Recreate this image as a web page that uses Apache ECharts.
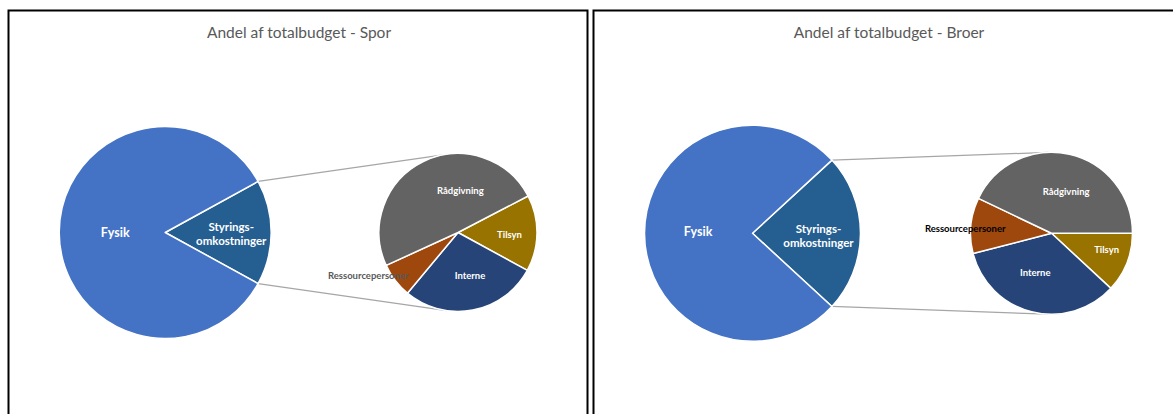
<!DOCTYPE html>
<html>
<head>
<meta charset="utf-8">
<script src="https://cdn.jsdelivr.net/npm/echarts@6/dist/echarts.min.js"></script>
<style>
html,body{margin:0;padding:0;background:#fff;}
#chart{width:1173px;height:414px;}
</style>
</head>
<body>
<div id="chart"></div>
<script>
// ---- data ----
const mainCategories = ['Styringsomkostninger', 'Fysik'];
const mainLabels = ['Styrings-\nomkostninger', 'Fysik'];
const subCategories = ['Tilsyn', 'Interne', 'Ressourcepersoner', 'Rådgivning'];

const titles = ['Andel af totalbudget - Spor', 'Andel af totalbudget - Broer'];

// share of total budget (%)
const sporMain = [16.0, 84.0];
const broerMain = [23.7, 76.3];
// breakdown of Styringsomkostninger (% of Styringsomkostninger)
const sporSub = [15.6, 28.1, 7.1, 49.2];
const broerSub = [11.9, 34.1, 11.1, 42.9];

// ---- style / layout ----
const mainColors = ['#255E91', '#4472C4'];
const subColors = ['#997300', '#264478', '#9E480E', '#636363'];
const FONT = 'Lato, "Open Sans", sans-serif';

const panels = [
  { main: sporMain, sub: sporSub, title: titles[0], titleX: 299,
    mc: [165.2, 232.5], mr: 106, sc: [458, 232.5], sr: 79, subStart: 27.5,
    mainOff: [[10, 1], [6, 0]],
    subOff: [[9, 1.5], [4, 1], [-56, 17], [21, -4]],
    resColor: '#595959',
    box: [8, 10, 579, 420] },
  { main: broerMain, sub: broerSub, title: titles[1], titleX: 889,
    mc: [752.5, 233.3], mr: 108, sc: [1051.5, 233.3], sr: 81, subStart: 0,
    mainOff: [[9, 2], [2.5, -1.5]],
    subOff: [[14.6, 0], [-5.6, -3], [-43, -1], [5, 1]],
    resColor: '#000000',
    box: [593, 10, 600, 420] }
];

function tangent(px, py, cx, cy, r, upper) {
  const dx = px - cx, dy = py - cy;
  const d = Math.sqrt(dx * dx + dy * dy);
  const base = Math.atan2(dy, dx);
  const a = Math.acos(r / d);
  const ang = upper ? base + a : base - a;
  return [cx + r * Math.cos(ang), cy + r * Math.sin(ang)];
}

const series = [];
const graphics = [];

panels.forEach((p, i) => {
  const total = p.main[0] + p.main[1];
  const half = p.main[0] / total * 360 / 2;
  // main pie
  series.push({
    type: 'pie', center: p.mc, radius: p.mr, startAngle: half, clockwise: true,
    animation: false, avoidLabelOverlap: false, silent: true,
    itemStyle: { borderColor: '#ffffff', borderWidth: 1.5 },
    label: { show: true, position: 'inside', color: '#ffffff', fontFamily: FONT,
      fontWeight: 'bold', lineHeight: 14 },
    labelLine: { show: false },
    emphasis: { disabled: true },
    labelLayout: (params) => ({ dx: p.mainOff[params.dataIndex][0], dy: p.mainOff[params.dataIndex][1] }),
    data: p.main.map((v, k) => ({
      name: mainCategories[k], value: v,
      itemStyle: { color: mainColors[k] },
      label: { formatter: mainLabels[k], fontSize: k === 1 ? 12.5 : 11.5 }
    }))
  });
  // secondary pie
  series.push({
    type: 'pie', center: p.sc, radius: p.sr, startAngle: p.subStart, clockwise: true,
    animation: false, avoidLabelOverlap: false, silent: true,
    itemStyle: { borderColor: '#ffffff', borderWidth: 1.5 },
    label: { show: true, position: 'inside', color: '#ffffff', fontFamily: FONT,
      fontWeight: 'bold', fontSize: 9.5, formatter: '{b}' },
    labelLine: { show: false },
    emphasis: { disabled: true },
    labelLayout: (params) => ({ dx: p.subOff[params.dataIndex][0], dy: p.subOff[params.dataIndex][1] }),
    data: p.sub.map((v, k) => ({
      name: subCategories[k], value: v,
      itemStyle: { color: subColors[k] },
      label: k === 2 ? { color: p.resColor } : {}
    }))
  });
  // connector lines
  const rad = half * Math.PI / 180;
  const up = [p.mc[0] + p.mr * Math.cos(rad), p.mc[1] - p.mr * Math.sin(rad)];
  const lo = [p.mc[0] + p.mr * Math.cos(rad), p.mc[1] + p.mr * Math.sin(rad)];
  const tu = tangent(up[0], up[1], p.sc[0], p.sc[1], p.sr, true);
  const tl = tangent(lo[0], lo[1], p.sc[0], p.sc[1], p.sr, false);
  graphics.push({ type: 'line', z: -1, silent: true,
    shape: { x1: up[0], y1: up[1], x2: tu[0], y2: tu[1] },
    style: { stroke: '#A6A6A6', lineWidth: 1.25 } });
  graphics.push({ type: 'line', z: -1, silent: true,
    shape: { x1: lo[0], y1: lo[1], x2: tl[0], y2: tl[1] },
    style: { stroke: '#A6A6A6', lineWidth: 1.25 } });
  // panel border
  graphics.push({ type: 'rect', z: -2, silent: true,
    shape: { x: p.box[0] + 0.5, y: p.box[1] + 0.5, width: p.box[2], height: p.box[3] },
    style: { fill: '#ffffff', stroke: '#000000', lineWidth: 2 } });
  // title
  graphics.push({ type: 'text', silent: true, x: p.titleX, y: 32,
    style: { text: p.title, fill: '#595959', font: '15.5px ' + FONT,
      textAlign: 'center', textVerticalAlign: 'middle' } });
});

const chart = echarts.init(document.getElementById('chart'), null, { renderer: 'svg' });
chart.setOption({
  animation: false,
  backgroundColor: '#ffffff',
  graphic: graphics,
  series: series
});
</script>
</body>
</html>
